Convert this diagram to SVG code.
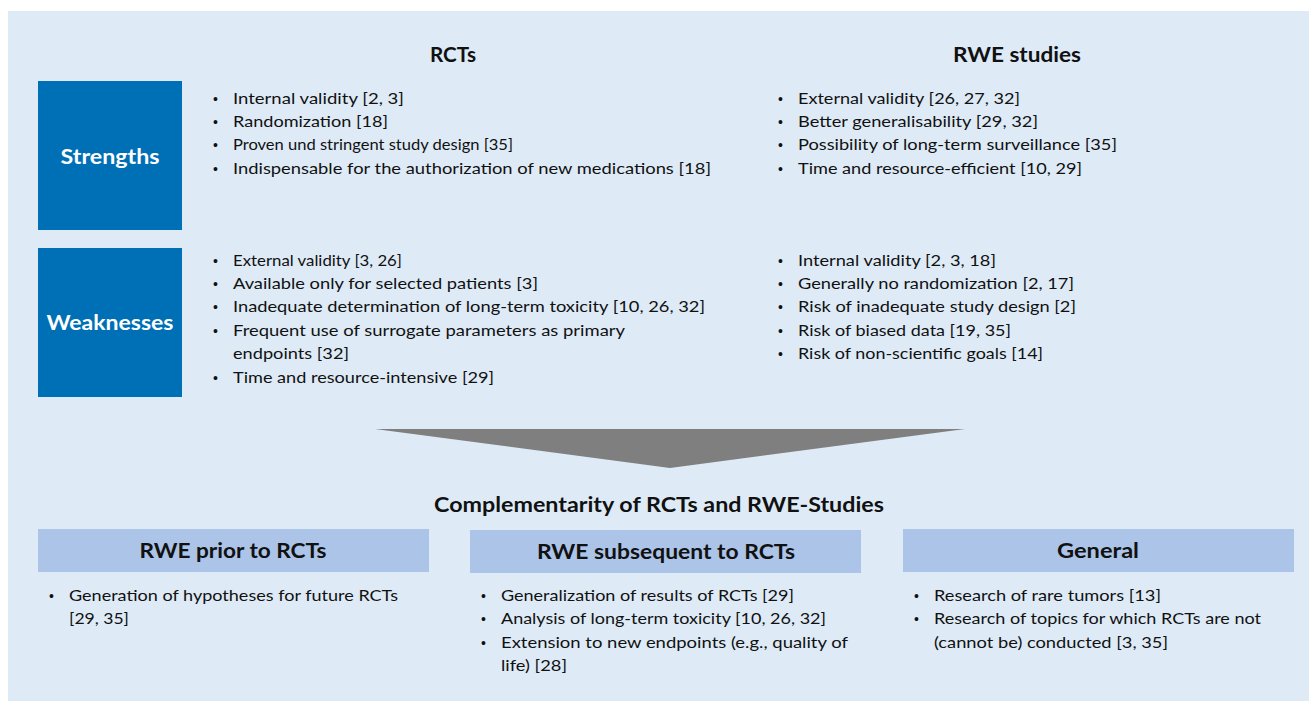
<svg xmlns="http://www.w3.org/2000/svg" width="1309" height="702" viewBox="0 0 1309 702">
  <style>
    .panel { fill: #deebf7; }
    .label-box { fill: #0070b6; }
    .label { font-family: Lato, "Open Sans", sans-serif; font-weight: bold; font-size: 21px; fill: #ffffff; text-anchor: middle; }
    .col-head { font-family: Lato, "Open Sans", sans-serif; font-weight: bold; font-size: 20px; fill: #111111; text-anchor: middle; }
    .sub-box { fill: #abc4e8; }
    .item { font-family: Lato, "Open Sans", sans-serif; font-size: 16px; fill: #111111; }
    .dot { font-family: "Liberation Sans", sans-serif; font-size: 14px; fill: #111111; }
  </style>

  <rect class="panel" x="8" y="11" width="1301" height="690"/>

  <!-- column titles -->
  <g id="head-rcts">
    <text class="col-head" x="453" y="62" textLength="46" lengthAdjust="spacingAndGlyphs">RCTs</text>
  </g>
  <g id="head-rwe">
    <text class="col-head" x="1017" y="62" textLength="128" lengthAdjust="spacingAndGlyphs">RWE studies</text>
  </g>

  <!-- strengths row -->
  <g id="strengths">
    <rect class="label-box" x="38" y="81" width="144" height="149"/>
    <text class="label" x="110" y="164" textLength="99" lengthAdjust="spacingAndGlyphs">Strengths</text>
  </g>
  <g id="strengths-rcts">
    <text class="dot" x="213" y="104">•</text>
    <text class="item" x="233" y="104" textLength="171" lengthAdjust="spacingAndGlyphs">Internal validity [2, 3]</text>
    <text class="dot" x="213" y="127">•</text>
    <text class="item" x="233" y="127" textLength="155" lengthAdjust="spacingAndGlyphs">Randomization [18]</text>
    <text class="dot" x="213" y="150">•</text>
    <text class="item" x="233" y="150" textLength="280" lengthAdjust="spacingAndGlyphs">Proven und stringent study design [35]</text>
    <text class="dot" x="213" y="174">•</text>
    <text class="item" x="233" y="174" textLength="478" lengthAdjust="spacingAndGlyphs">Indispensable for the authorization of new medications [18]</text>
  </g>
  <g id="strengths-rwe">
    <text class="dot" x="778" y="104">•</text>
    <text class="item" x="798" y="104" textLength="222" lengthAdjust="spacingAndGlyphs">External validity [26, 27, 32]</text>
    <text class="dot" x="778" y="127">•</text>
    <text class="item" x="798" y="127" textLength="240" lengthAdjust="spacingAndGlyphs">Better generalisability [29, 32]</text>
    <text class="dot" x="778" y="150">•</text>
    <text class="item" x="798" y="150" textLength="319" lengthAdjust="spacingAndGlyphs">Possibility of long-term surveillance [35]</text>
    <text class="dot" x="778" y="174">•</text>
    <text class="item" x="798" y="174" textLength="284" lengthAdjust="spacingAndGlyphs">Time and resource-efficient [10, 29]</text>
  </g>

  <!-- weaknesses row -->
  <g id="weaknesses">
    <rect class="label-box" x="38" y="248" width="144" height="149"/>
    <text class="label" x="110" y="330" textLength="127" lengthAdjust="spacingAndGlyphs">Weaknesses</text>
  </g>
  <g id="weaknesses-rcts">
    <text class="dot" x="213" y="266">•</text>
    <text class="item" x="233" y="266" textLength="169" lengthAdjust="spacingAndGlyphs">External validity [3, 26]</text>
    <text class="dot" x="213" y="289">•</text>
    <text class="item" x="233" y="289" textLength="305" lengthAdjust="spacingAndGlyphs">Available only for selected patients [3]</text>
    <text class="dot" x="213" y="312">•</text>
    <text class="item" x="233" y="312" textLength="472" lengthAdjust="spacingAndGlyphs">Inadequate determination of long-term toxicity [10, 26, 32]</text>
    <text class="dot" x="213" y="336">•</text>
    <text class="item" x="233" y="336" textLength="392" lengthAdjust="spacingAndGlyphs">Frequent use of surrogate parameters as primary</text>
    <text class="item" x="233" y="359" textLength="116" lengthAdjust="spacingAndGlyphs">endpoints [32]</text>
    <text class="dot" x="213" y="383">•</text>
    <text class="item" x="233" y="383" textLength="261" lengthAdjust="spacingAndGlyphs">Time and resource-intensive [29]</text>
  </g>
  <g id="weaknesses-rwe">
    <text class="dot" x="778" y="266">•</text>
    <text class="item" x="798" y="266" textLength="198" lengthAdjust="spacingAndGlyphs">Internal validity [2, 3, 18]</text>
    <text class="dot" x="778" y="289">•</text>
    <text class="item" x="798" y="289" textLength="276" lengthAdjust="spacingAndGlyphs">Generally no randomization [2, 17]</text>
    <text class="dot" x="778" y="312">•</text>
    <text class="item" x="798" y="312" textLength="278" lengthAdjust="spacingAndGlyphs">Risk of inadequate study design [2]</text>
    <text class="dot" x="778" y="336">•</text>
    <text class="item" x="798" y="336" textLength="213" lengthAdjust="spacingAndGlyphs">Risk of biased data [19, 35]</text>
    <text class="dot" x="778" y="359">•</text>
    <text class="item" x="798" y="359" textLength="245" lengthAdjust="spacingAndGlyphs">Risk of non-scientific goals [14]</text>
  </g>

  <!-- funnel arrow -->
  <g id="connectors">
    <polygon points="375,429 965,429 670,468" fill="#7f7f7f"/>
  </g>

  <g id="complementarity">
    <text class="col-head" x="659" y="512" textLength="450" lengthAdjust="spacingAndGlyphs">Complementarity of RCTs and RWE-Studies</text>
  </g>

  <!-- bottom categories -->
  <g id="rwe-prior">
    <rect class="sub-box" x="38" y="529" width="391" height="43"/>
    <text class="col-head" x="233" y="558" textLength="187" lengthAdjust="spacingAndGlyphs">RWE prior to RCTs</text>
    <text class="dot" x="49" y="601">•</text>
    <text class="item" x="69" y="601" textLength="329" lengthAdjust="spacingAndGlyphs">Generation of hypotheses for future RCTs</text>
    <text class="item" x="69" y="624" textLength="60" lengthAdjust="spacingAndGlyphs">[29, 35]</text>
  </g>
  <g id="rwe-subsequent">
    <rect class="sub-box" x="470" y="530" width="391" height="43"/>
    <text class="col-head" x="666" y="559" textLength="258" lengthAdjust="spacingAndGlyphs">RWE subsequent to RCTs</text>
    <text class="dot" x="481" y="601">•</text>
    <text class="item" x="501" y="601" textLength="293" lengthAdjust="spacingAndGlyphs">Generalization of results of RCTs [29]</text>
    <text class="dot" x="481" y="624">•</text>
    <text class="item" x="501" y="624" textLength="325" lengthAdjust="spacingAndGlyphs">Analysis of long-term toxicity [10, 26, 32]</text>
    <text class="dot" x="481" y="648">•</text>
    <text class="item" x="501" y="648" textLength="347" lengthAdjust="spacingAndGlyphs">Extension to new endpoints (e.g., quality of</text>
    <text class="item" x="501" y="671" textLength="66" lengthAdjust="spacingAndGlyphs">life) [28]</text>
  </g>
  <g id="general">
    <rect class="sub-box" x="903" y="529" width="391" height="43"/>
    <text class="col-head" x="1098" y="558" textLength="82" lengthAdjust="spacingAndGlyphs">General</text>
    <text class="dot" x="914" y="601">•</text>
    <text class="item" x="934" y="601" textLength="227" lengthAdjust="spacingAndGlyphs">Research of rare tumors [13]</text>
    <text class="dot" x="914" y="624">•</text>
    <text class="item" x="934" y="624" textLength="327" lengthAdjust="spacingAndGlyphs">Research of topics for which RCTs are not</text>
    <text class="item" x="934" y="648" textLength="234" lengthAdjust="spacingAndGlyphs">(cannot be) conducted [3, 35]</text>
  </g>
</svg>
